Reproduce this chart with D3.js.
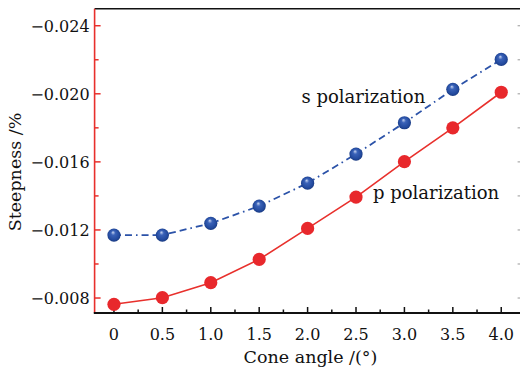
<!DOCTYPE html>
<html><head><meta charset="utf-8">
<script src="https://cdn.jsdelivr.net/npm/d3@7"></script>
<style>body{margin:0;background:#fff}svg{display:block}text{font-family:"DejaVu Serif",serif;fill:#111}</style>
</head><body>
<svg id="c" width="520" height="372"></svg>
<script>
const angles = [0, 0.5, 1.0, 1.5, 2.0, 2.5, 3.0, 3.5, 4.0];
const sPol = [-0.0117, -0.0117, -0.01239, -0.0134, -0.01475, -0.01646, -0.0183, -0.02026, -0.02202];
const pPol = [-0.00763, -0.00802, -0.0089, -0.01027, -0.01209, -0.01393, -0.01601, -0.0180, -0.02009];
const xTicks = [0, 0.5, 1.0, 1.5, 2.0, 2.5, 3.0, 3.5, 4.0];
const xMinor = [0.25, 0.75, 1.25, 1.75, 2.25, 2.75, 3.25, 3.75];
const yTicks = [-0.008, -0.012, -0.016, -0.020, -0.024];
const yMinor = [-0.010, -0.014, -0.018, -0.022];

const svg = d3.select("#c");
const x = d3.scaleLinear().domain([-0.2, 4.2]).range([94.6, 520.6]);
const y = d3.scaleLinear().domain([-0.00712, -0.025]).range([313, 8.7]);
const X0 = x.range()[0], X1 = x.range()[1], Y0 = y.range()[0], Y1 = y.range()[1];

const defs = svg.append("defs");
const g = defs.append("radialGradient").attr("id","blueBall").attr("cx","50%").attr("cy","50%").attr("r","55%").attr("fx","42%").attr("fy","28%");
g.append("stop").attr("offset","0%").attr("stop-color","#c9d6f2");
g.append("stop").attr("offset","30%").attr("stop-color","#3a62b8");
g.append("stop").attr("offset","75%").attr("stop-color","#234a9e");
g.append("stop").attr("offset","100%").attr("stop-color","#163578");

// frame: top, right ticks (right axis line lies just outside the picture)
svg.append("line").attr("x1",X0).attr("x2",520).attr("y1",Y1).attr("y2",Y1).attr("stroke","#111").attr("stroke-width",1.6);
svg.selectAll(".rt").data(yTicks.concat(yMinor)).join("line")
  .attr("x1",X1+1).attr("x2",X1-3).attr("y1",d=>y(d)).attr("y2",d=>y(d)).attr("stroke","#aaa").attr("stroke-width",1.2);

// left axis (red)
const red = "#e8302c";
svg.append("line").attr("x1",X0).attr("x2",X0).attr("y1",Y1).attr("y2",Y0).attr("stroke",red).attr("stroke-width",1.6);
svg.selectAll(".ytm").data(yTicks).join("line").attr("x1",X0).attr("x2",X0+6).attr("y1",d=>y(d)).attr("y2",d=>y(d)).attr("stroke",red).attr("stroke-width",1.5);
svg.selectAll(".ytn").data(yMinor).join("line").attr("x1",X0).attr("x2",X0+4).attr("y1",d=>y(d)).attr("y2",d=>y(d)).attr("stroke",red).attr("stroke-width",1.5);
const fmt = d3.format(".3f");
svg.selectAll(".ytl").data(yTicks).join("text").attr("x",X0-5).attr("y",d=>y(d)+6)
  .attr("text-anchor","end").attr("font-size",16).text(d=>fmt(d));

// bottom axis
svg.append("line").attr("x1",X0-0.8).attr("x2",520).attr("y1",Y0).attr("y2",Y0).attr("stroke","#111").attr("stroke-width",1.8);
svg.selectAll(".xtm").data(xTicks).join("line").attr("x1",d=>x(d)).attr("x2",d=>x(d)).attr("y1",Y0).attr("y2",Y0-6).attr("stroke","#111").attr("stroke-width",1.5);
svg.selectAll(".xtn").data(xMinor).join("line").attr("x1",d=>x(d)).attr("x2",d=>x(d)).attr("y1",Y0).attr("y2",Y0-3.5).attr("stroke","#111").attr("stroke-width",1.5);
svg.selectAll(".xtl").data(xTicks).join("text").attr("x",d=>x(d)).attr("y",340)
  .attr("text-anchor","middle").attr("font-size",16).text(d=>d===0?"0":d3.format(".1f")(d));

// axis titles
svg.append("text").attr("x",310.5).attr("y",363).attr("text-anchor","middle").attr("font-size",17.5).text("Cone angle /(°)");
svg.append("text").attr("transform","translate(21,172) rotate(-90)").attr("text-anchor","middle").attr("font-size",17.5).text("Steepness /%");

// lines
const line = d3.line().x(d=>x(d[0])).y(d=>y(d[1]));
const sData = angles.map((a,i)=>[a,sPol[i]]);
const pData = angles.map((a,i)=>[a,pPol[i]]);
svg.append("path").datum(sData).attr("d",line).attr("fill","none").attr("stroke","#2b52a8").attr("stroke-width",1.8).attr("stroke-dasharray","7,4,7,4,1.6,4");
svg.append("path").datum(pData).attr("d",line).attr("fill","none").attr("stroke",red).attr("stroke-width",1.6);

svg.selectAll(".ps").data(pData).join("circle").attr("cx",d=>x(d[0])).attr("cy",d=>y(d[1])).attr("r",6.6).attr("fill","#e8282c");
svg.selectAll(".ss").data(sData).join("circle").attr("cx",d=>x(d[0])).attr("cy",d=>y(d[1])).attr("r",6.6).attr("fill","url(#blueBall)");

// labels
svg.append("text").attr("x",301.5).attr("y",103).attr("font-size",18).text("s polarization");
svg.append("text").attr("x",373).attr("y",199).attr("font-size",18).text("p polarization");
</script>
</body></html>
